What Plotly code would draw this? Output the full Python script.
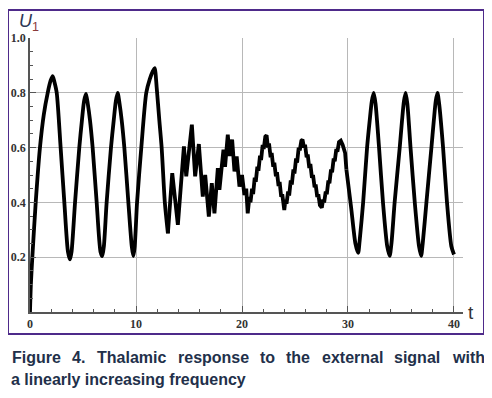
import plotly.graph_objects as go

# ---- data ----
t_vals = [
    0.0, 0.08, 0.22, 0.54, 0.94, 1.3, 1.67, 1.95, 2.14, 2.3, 2.52, 2.89, 3.24, 3.58, 3.77,
    3.92, 4.25, 4.65, 4.9, 5.1, 5.28, 5.45, 5.66, 5.91, 6.29, 6.65, 6.82,
    6.97, 7.23, 7.64, 7.9, 8.1, 8.27, 8.45, 8.65, 8.9, 9.28, 9.6, 9.75,
    9.88, 10.1, 10.5, 10.97, 11.3, 11.6, 11.76, 11.95, 12.2, 12.42, 12.72, 13.01,
    13.42, 13.95, 14.52, 14.74, 15.27, 15.58, 15.93, 16.3, 16.53, 16.87, 17.15, 17.4,
    17.72, 17.87, 18.25, 18.4, 18.66, 18.82, 19.07, 19.29, 19.5, 19.76, 20.0, 20.23,
    20.4, 20.54, 20.7, 20.8, 20.95, 21.05, 21.2, 21.3, 21.45, 21.55, 21.7, 21.8, 21.95,
    22.05, 22.2, 22.32, 22.45, 22.55, 22.7, 22.8, 22.95, 23.05, 23.2, 23.3, 23.45, 23.55,
    23.7, 23.8, 23.99, 24.1, 24.2, 24.35, 24.45, 24.6, 24.7, 24.85, 24.95, 25.1, 25.2,
    25.35, 25.45, 25.6, 25.71, 25.85, 25.95, 26.1, 26.2, 26.35, 26.45, 26.6, 26.7,
    26.85, 26.95, 27.1, 27.2, 27.35, 27.53, 27.65, 27.75, 27.9, 28.0, 28.15, 28.25,
    28.4, 28.5, 28.65, 28.75, 28.9, 29.0, 29.15, 29.32, 29.5, 29.6, 29.73, 29.85,
    30.3, 30.7, 30.96,
    31.1, 31.43, 31.8, 32.05, 32.25, 32.43, 32.6, 32.93, 33.3, 33.7, 33.93,
    34.1, 34.4, 34.88, 35.1, 35.28, 35.44, 35.6, 35.9, 36.3, 36.7, 36.9,
    37.05, 37.4, 37.87, 38.1, 38.28, 38.44, 38.6, 38.97, 39.34, 39.75, 40.0,
]
u_vals = [
    0.0, 0.1, 0.2, 0.4, 0.6, 0.72, 0.8, 0.845, 0.861, 0.84, 0.8, 0.6, 0.4, 0.22, 0.192,
    0.22, 0.4, 0.6, 0.7, 0.77, 0.796, 0.76, 0.7, 0.6, 0.4, 0.22, 0.204,
    0.24, 0.4, 0.6, 0.7, 0.77, 0.8, 0.76, 0.7, 0.6, 0.4, 0.24, 0.204,
    0.24, 0.4, 0.6, 0.8, 0.85, 0.88, 0.89, 0.82, 0.7, 0.6, 0.4, 0.287,
    0.507, 0.318, 0.604, 0.495, 0.684, 0.495, 0.613, 0.421, 0.5, 0.348, 0.47, 0.36,
    0.525, 0.446, 0.592, 0.53, 0.647, 0.57, 0.629, 0.513, 0.568, 0.458, 0.5, 0.427,
    0.45, 0.36, 0.42, 0.40, 0.45, 0.43, 0.49, 0.475, 0.53, 0.515, 0.57, 0.555, 0.61,
    0.595, 0.64, 0.645, 0.6, 0.615, 0.565, 0.58, 0.53, 0.545, 0.495, 0.51, 0.46, 0.475,
    0.42, 0.43, 0.372, 0.41, 0.395, 0.44, 0.425, 0.48, 0.465, 0.52, 0.505, 0.56, 0.545,
    0.6, 0.59, 0.625, 0.629, 0.6, 0.61, 0.565, 0.575, 0.525, 0.54, 0.49, 0.5,
    0.455, 0.465, 0.42, 0.43, 0.39, 0.381, 0.41, 0.4, 0.44, 0.43, 0.48, 0.47,
    0.52, 0.51, 0.56, 0.55, 0.595, 0.585, 0.62, 0.625, 0.61, 0.6, 0.58, 0.52,
    0.38, 0.25, 0.216,
    0.26, 0.4, 0.6, 0.7, 0.77, 0.8, 0.76, 0.6, 0.4, 0.24, 0.205,
    0.25, 0.4, 0.6, 0.7, 0.77, 0.8, 0.76, 0.6, 0.4, 0.24, 0.205,
    0.25, 0.4, 0.6, 0.7, 0.77, 0.8, 0.76, 0.6, 0.4, 0.24, 0.21,
]

# t where the irregular (staircase) stretch begins and ends
irregular_start, irregular_end = 13.01, 29.85

x_ticks = [0, 10, 20, 30, 40]
y_ticks = [0.2, 0.4, 0.6, 0.8, 1.0]
y_tick_text = ["0.2", "0.4", "0.6", "0.8", "1.0"]

caption_line1 = ["Figure", "4.", "Thalamic", "response", "to", "the", "external", "signal", "with"]
caption_line2 = "a linearly increasing frequency"

# ---- layout geometry ----
# The page body adds an 8px offset; positions below are given in
# reference-image pixels and shifted by OFF into figure coordinates.
OFF = 8
W, H = 492 - OFF, 398 - OFF
FL, FR, FT, FB = 9, 483, 11, 333          # purple frame
ML, MR, MT, MB = FL - OFF, W - (FR - OFF), FT - OFF, H - (FB - OFF)
AW, AH = W - ML - MR, H - MT - MB
PL, PR, PT, PB = 30, 463, 38, 312         # data plot area


def px_x(px):
    return (px - OFF - ML) / AW


def px_y(py):
    return (H - MB - (py - OFF)) / AH


i0 = t_vals.index(irregular_start)
i1 = t_vals.index(irregular_end)
segments = [
    (t_vals[:i0 + 1], u_vals[:i0 + 1], "spline"),
    (t_vals[i0:i1 + 1], u_vals[i0:i1 + 1], "linear"),
    (t_vals[i1:], u_vals[i1:], "spline"),
]

fig = go.Figure()
for xs, ys, shp in segments:
    fig.add_trace(go.Scatter(
        x=xs, y=ys, mode="lines",
        line=dict(color="black", width=3.8, shape=shp, smoothing=0.7 if shp == "spline" else None),
        hoverinfo="skip", showlegend=False, xaxis="x", yaxis="y",
    ))
# invisible trace holding the frame axes
fig.add_trace(go.Scatter(
    x=[0, 1], y=[0, 1], mode="markers", marker=dict(opacity=0),
    hoverinfo="skip", showlegend=False, xaxis="x2", yaxis="y2",
))

axis_col = "#555555"
grid_col = "#b8b8b8"
frame_col = "#4e2a8a"
tickfont = dict(family="Liberation Serif", size=12, color="#333333", weight="bold")

fig.update_layout(
    template="none",
    width=W, height=H,
    margin=dict(l=ML, r=MR, t=MT, b=MB, pad=0),
    paper_bgcolor="white", plot_bgcolor="rgba(0,0,0,0)",
    xaxis=dict(
        domain=[px_x(PL), px_x(PR)], anchor="y",
        range=[0, 40.85], tickmode="array", tickvals=x_ticks,
        ticks="inside", ticklen=6, tickwidth=1, tickcolor=axis_col,
        showline=True, linecolor=axis_col, linewidth=1.5, mirror=False,
        showgrid=True, gridcolor=grid_col, gridwidth=1, zeroline=False,
        tickfont=tickfont, automargin=False,
        minor=dict(tickmode="linear", tick0=0, dtick=2, ticks="inside", ticklen=3.5,
                   tickcolor=axis_col, tickwidth=1, showgrid=False),
    ),
    yaxis=dict(
        domain=[px_y(PB), px_y(PT)], anchor="x",
        range=[0, 1.0], tickmode="array", tickvals=y_ticks, ticktext=y_tick_text,
        ticks="inside", ticklen=6, tickwidth=1, tickcolor=axis_col,
        showline=True, linecolor=axis_col, linewidth=1.5, mirror=False,
        showgrid=True, gridcolor=grid_col, gridwidth=1, zeroline=False,
        tickfont=tickfont, automargin=False,
        minor=dict(tickmode="linear", tick0=0, dtick=0.05, ticks="inside", ticklen=3.5,
                   tickcolor=axis_col, tickwidth=1, showgrid=False),
    ),
    xaxis2=dict(domain=[0, 1], anchor="y2", range=[0, 1], showline=True, mirror=True,
                linecolor=frame_col, linewidth=2, showgrid=False, zeroline=False,
                showticklabels=False, ticks="", automargin=False, fixedrange=True),
    yaxis2=dict(domain=[0, 1], anchor="x2", range=[0, 1], showline=True, mirror=True,
                linecolor=frame_col, linewidth=2, showgrid=False, zeroline=False,
                showticklabels=False, ticks="", automargin=False, fixedrange=True),
)

# axis labels
fig.add_annotation(xref="paper", yref="paper", x=px_x(17), y=px_y(23),
                   xanchor="left", yanchor="middle", showarrow=False,
                   text="<span style='color:#2d3756'><i>U</i></span><sub><span style='color:#8a3a3a'>1</span></sub>",
                   font=dict(family="Liberation Sans", size=18))
fig.add_annotation(xref="paper", yref="paper", x=px_x(471), y=px_y(312),
                   xanchor="center", yanchor="middle", showarrow=False,
                   text="t", font=dict(family="Liberation Sans", size=19, color="#333333"))

# caption (justified first line placed word by word, equal gaps)
cap_font = dict(family="Liberation Sans", size=16, color="#22304a", weight="bold")
word_x = [10, 70, 95, 176, 258, 284, 320, 392, 450]
for w, wx in zip(caption_line1, word_x):
    fig.add_annotation(xref="paper", yref="paper", x=px_x(wx), y=px_y(357),
                       xanchor="left", yanchor="middle", showarrow=False,
                       text=w, font=cap_font)
fig.add_annotation(xref="paper", yref="paper", x=px_x(9), y=px_y(379),
                   xanchor="left", yanchor="middle", showarrow=False,
                   text=caption_line2, font=cap_font)

fig.write_html("out.html")
